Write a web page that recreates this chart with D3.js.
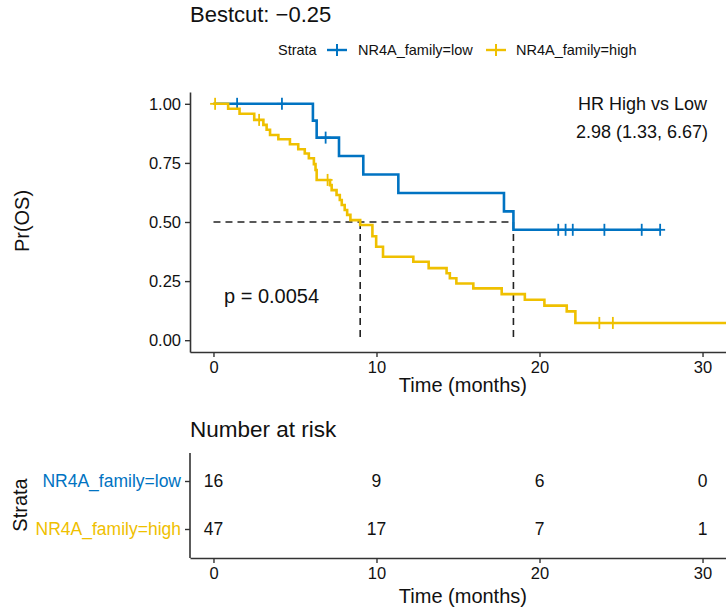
<!DOCTYPE html>
<html><head><meta charset="utf-8">
<script src="https://cdn.jsdelivr.net/npm/d3@7"></script>
<style>body{margin:0;background:#fff}svg text{font-family:"Liberation Sans",Arial,Helvetica,sans-serif}</style>
</head><body><svg id="c" width="726" height="609"></svg>
<script>
// ---- data ----
const strata = ["NR4A_family=low", "NR4A_family=high"];
const colors = ["#0073C2", "#EFC000"];
const lowTimes = [0, 6.1, 6.33, 7.7, 9.19, 11.34, 17.82, 18.4];
const lowSurv  = [1, 0.929, 0.857, 0.779, 0.701, 0.623, 0.545, 0.467];
const lowEnd = 27.4;
const lowCensor = [1.45, 4.2, 6.88, 21.15, 21.6, 22.04, 23.98, 26.27, 27.4];
const highTimes = [0, 0.9, 1.6, 2.5, 3.06, 3.26, 3.47, 3.98, 4.69, 5.2, 5.6, 5.85, 6.16, 6.26, 6.33, 7.15, 7.25, 7.55, 7.75, 7.87, 8.05, 8.2, 8.4, 9.0, 9.75, 9.98, 10.4, 12.26, 13.2, 14.3, 14.5, 14.9, 15.94, 17.68, 19.1, 20.3, 21.67, 22.2];
const highSurv  = [1, 0.979, 0.958, 0.932, 0.911, 0.890, 0.868, 0.850, 0.829, 0.808, 0.79, 0.77, 0.745, 0.72, 0.678, 0.656, 0.635, 0.614, 0.593, 0.572, 0.551, 0.53, 0.508, 0.487, 0.44, 0.395, 0.353, 0.332, 0.305, 0.283, 0.262, 0.24, 0.219, 0.195, 0.171, 0.146, 0.122, 0.073];
const highEnd = 33;
const highCensor = [0.1, 2.8, 7.0, 23.67, 24.5];
const medians = [18.4, 9.0];
const xTicks = [0, 10, 20, 30];
const yTicks = [0, 0.25, 0.5, 0.75, 1];
const riskTimes = [0, 10, 20, 30];
const lowRisk = [16, 9, 6, 0];
const highRisk = [47, 17, 7, 1];
const titleText = "Bestcut: \u22120.25";
const hrText = ["HR High vs Low", "2.98 (1.33, 6.67)"];
const pText = "p = 0.0054";

// ---- layout ----
const svg = d3.select("#c");
const F = '"Liberation Sans",Arial,Helvetica,sans-serif';
const x = d3.scaleLinear().domain([-1.44, 31.44]).range([190, 726]);
const y = d3.scaleLinear().domain([-0.05, 1.05]).range([352, 92]);
const axisCol = "#333";

svg.append("text").attr("x", 190).attr("y", 22).attr("font-size", 22).attr("fill", "#111").text(titleText);

// legend
const lg = svg.append("g");
lg.append("text").attr("x", 278).attr("y", 55).attr("font-size", 14.5).attr("fill", "#111").text("Strata");
const legX = [[337, 358], [496, 516]];
strata.forEach((s, i) => {
  const [cx, tx] = legX[i];
  lg.append("line").attr("x1", cx - 10).attr("x2", cx + 10).attr("y1", 50).attr("y2", 50).attr("stroke", colors[i]).attr("stroke-width", 2.4);
  lg.append("line").attr("x1", cx).attr("x2", cx).attr("y1", 44).attr("y2", 56).attr("stroke", colors[i]).attr("stroke-width", 2);
  lg.append("text").attr("x", tx).attr("y", 55).attr("font-size", 14.5).attr("fill", "#111").text(s);
});

// clip
svg.append("clipPath").attr("id", "cp").append("rect").attr("x", 190).attr("y", 80).attr("width", 536).attr("height", 280);
const plot = svg.append("g").attr("clip-path", "url(#cp)");

// median dashed lines
plot.append("line").attr("x1", x(0)).attr("x2", x(d3.max(medians))).attr("y1", y(0.5)).attr("y2", y(0.5))
  .attr("stroke", "#222").attr("stroke-width", 1.6).attr("stroke-dasharray", "7,5");
medians.forEach(m => {
  plot.append("line").attr("x1", x(m)).attr("x2", x(m)).attr("y1", y(0.5)).attr("y2", y(0))
    .attr("stroke", "#222").attr("stroke-width", 1.6).attr("stroke-dasharray", "7,5");
});

function survAt(times, surv, t) {
  let v = surv[0];
  for (let i = 0; i < times.length; i++) if (times[i] <= t) v = surv[i];
  return v;
}
const series = [
  {times: lowTimes, surv: lowSurv, end: lowEnd, cens: lowCensor, col: colors[0]},
  {times: highTimes, surv: highSurv, end: highEnd, cens: highCensor, col: colors[1]}
];
const line = d3.line().x(d => x(d[0])).y(d => y(d[1])).curve(d3.curveStepAfter);
series.forEach(s => {
  const pts = s.times.map((t, i) => [t, s.surv[i]]);
  pts.push([s.end, s.surv[s.surv.length - 1]]);
  plot.append("path").attr("d", line(pts)).attr("fill", "none").attr("stroke", s.col).attr("stroke-width", 2.6);
  s.cens.forEach(t => {
    const cx = x(t), cy = y(survAt(s.times, s.surv, t));
    plot.append("line").attr("x1", cx).attr("x2", cx).attr("y1", cy - 6).attr("y2", cy + 6).attr("stroke", s.col).attr("stroke-width", 1.8);
    plot.append("line").attr("x1", cx - 5).attr("x2", cx + 5).attr("y1", cy).attr("y2", cy).attr("stroke", s.col).attr("stroke-width", 1.8);
  });
});

// axes
const xa = svg.append("g").attr("transform", "translate(0,352)")
  .call(d3.axisBottom(x).tickValues(xTicks).tickSize(5).tickPadding(4).tickSizeOuter(0));
const ya = svg.append("g").attr("transform", "translate(190,0)")
  .call(d3.axisLeft(y).tickValues(yTicks).tickFormat(d3.format(".2f")).tickSize(5).tickPadding(4).tickSizeOuter(0));
[xa, ya].forEach(a => {
  a.select(".domain").attr("stroke", axisCol).attr("stroke-width", 1.6);
  a.selectAll(".tick line").attr("stroke", axisCol).attr("stroke-width", 1.4);
  a.selectAll("text").attr("font-size", 16.5).attr("fill", "#111").style("font-family", F);
});
svg.append("text").attr("x", x(15.3)).attr("y", 392).attr("text-anchor", "middle").attr("font-size", 20).attr("fill", "#111").text("Time (months)");
svg.append("text").attr("transform", "translate(29,221) rotate(-90)").attr("text-anchor", "middle").attr("font-size", 20).attr("fill", "#111").text("Pr(OS)");

// annotations
svg.append("text").attr("x", 707).attr("y", 110).attr("text-anchor", "end").attr("font-size", 18).attr("fill", "#111").text(hrText[0]);
svg.append("text").attr("x", 708).attr("y", 138).attr("text-anchor", "end").attr("font-size", 18).attr("fill", "#111").text(hrText[1]);
svg.append("text").attr("x", 224).attr("y", 303).attr("font-size", 20).attr("fill", "#111").text(pText);

// ---- risk table ----
svg.append("text").attr("x", 190).attr("y", 437).attr("font-size", 22.5).attr("fill", "#111").text("Number at risk");
const ry = d3.scalePoint().domain(strata).range([481, 529]);
const riskVals = [lowRisk, highRisk];
strata.forEach((s, i) => {
  riskTimes.forEach((t, j) => {
    svg.append("text").attr("x", x(t)).attr("y", ry(s)).attr("dy", "0.35em").attr("text-anchor", "middle")
      .attr("font-size", 17.5).attr("fill", "#111").text(riskVals[i][j]);
  });
});
const rxa = svg.append("g").attr("transform", "translate(0,558)")
  .call(d3.axisBottom(x).tickValues(xTicks).tickSize(5).tickPadding(4).tickSizeOuter(0));
const rya = svg.append("g").attr("transform", "translate(190,0)")
  .call(d3.axisLeft(ry).tickSize(5).tickPadding(4).tickSizeOuter(0));
rya.select(".domain").attr("d", "M0,453V558");
[rxa, rya].forEach(a => {
  a.select(".domain").attr("stroke", axisCol).attr("stroke-width", 1.6);
  a.selectAll(".tick line").attr("stroke", axisCol).attr("stroke-width", 1.4);
  a.selectAll("text").attr("font-size", 16.5).attr("fill", "#111").style("font-family", F);
});
rya.selectAll("text").attr("font-size", 17.5).attr("fill", (d, i) => colors[strata.indexOf(d)]);
svg.append("text").attr("x", x(15.3)).attr("y", 603).attr("text-anchor", "middle").attr("font-size", 20).attr("fill", "#111").text("Time (months)");
svg.append("text").attr("transform", "translate(27,505) rotate(-90)").attr("text-anchor", "middle").attr("font-size", 20).attr("fill", "#111").text("Strata");
</script></body></html>
